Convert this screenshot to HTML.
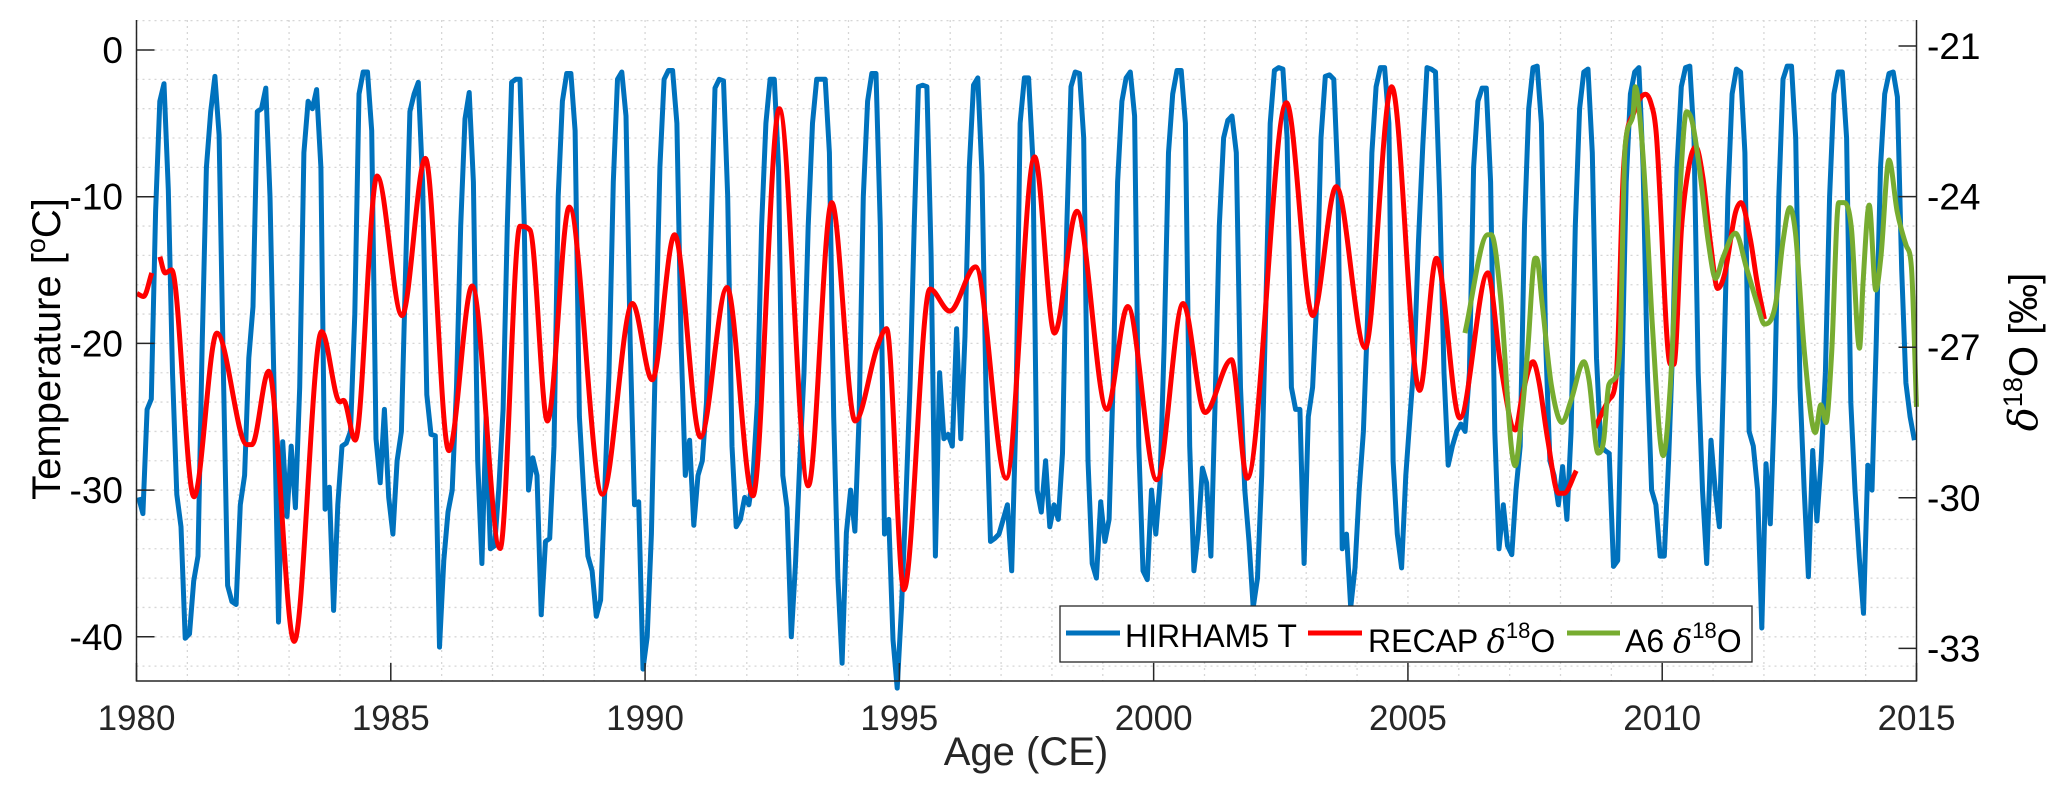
<!DOCTYPE html>
<html><head><meta charset="utf-8"><title>HIRHAM5 T vs δ18O</title>
<style>
html,body{margin:0;padding:0;background:#fff;}
svg{display:block;font-family:"Liberation Sans",Arial,sans-serif;}
</style></head>
<body>
<svg id="chart" width="2067" height="796" viewBox="0 0 2067 796" xmlns="http://www.w3.org/2000/svg">
<rect x="0" y="0" width="2067" height="796" fill="#fff"/>
<g id="grid"></g>
<g id="series"></g>
<g id="axes"></g>
<text x="1026" y="765" font-size="40" fill="#262626" text-anchor="middle">Age (CE)</text>
<text transform="translate(60,349) rotate(-90)" font-size="40" fill="#000" text-anchor="middle">Temperature [<tspan font-size="27" dy="-15">o</tspan><tspan dy="15">C]</tspan></text>
<text transform="translate(2037,352) rotate(-90)" font-size="40" fill="#000" text-anchor="middle"><tspan font-family="DejaVu Serif, serif" font-style="italic">δ</tspan><tspan font-size="27" dy="-15">18</tspan><tspan dy="15">O [‰]</tspan></text>
<g>
<rect x="1060" y="606" width="692" height="56" fill="#fff" stroke="#262626" stroke-width="1.3"/>
<line x1="1066" y1="633" x2="1120" y2="633" stroke="#0072BD" stroke-width="5"/>
<text x="1125" y="647" font-size="32" fill="#000">HIRHAM5 T</text>
<line x1="1308" y1="633" x2="1362" y2="633" stroke="#FF0000" stroke-width="5"/>
<text x="1368" y="652" font-size="32" fill="#000">RECAP <tspan font-family="DejaVu Serif, serif" font-style="italic">δ</tspan><tspan font-size="22" dy="-14">18</tspan><tspan dy="14">O</tspan></text>
<line x1="1567" y1="633" x2="1620" y2="633" stroke="#77AC30" stroke-width="5"/>
<text x="1625" y="652" font-size="32" fill="#000">A6 <tspan font-family="DejaVu Serif, serif" font-style="italic">δ</tspan><tspan font-size="22" dy="-14">18</tspan><tspan dy="14">O</tspan></text>
</g>
</svg>
<script>
// ---- data ----
const years = [1980,1981,1982,1983,1984,1985,1986,1987,1988,1989,1990,1991,1992,1993,1994,1995,1996,1997,1998,1999,2000,2001,2002,2003,2004,2005,2006,2007,2008,2009,2010,2011,2012,2013,2014];
const hirhamMonthly = [
[-30.5,-31.6,-24.5,-23.8,-11,-3.5,-2.3,-9.5,-22,-30.3,-32.5,-40.1],
[-39.8,-36.2,-34.5,-20,-8,-4.2,-1.8,-5.8,-22,-36.5,-37.6,-37.8],
[-31,-29,-21,-17.5,-4.2,-4,-2.6,-10,-23.5,-39,-26.7,-31.8],
[-27,-31.2,-23,-7,-3.5,-4,-2.7,-8,-31.3,-29.8,-38.2,-31],
[-27,-26.8,-26,-18,-3,-1.5,-1.5,-5.5,-26.5,-29.5,-24.5,-30.5],
[-33,-28,-26,-15,-4.2,-3,-2.2,-9,-23.5,-26.2,-26.3,-40.7],
[-34.8,-31.5,-30,-23,-12,-4.7,-2.9,-9,-28,-35,-25,-34],
[-33.8,-29.8,-24.5,-12,-2.2,-2,-2,-12,-30,-27.8,-29,-38.5],
[-33.5,-33.3,-27,-10,-3.5,-1.6,-1.6,-5.5,-25,-30,-34.5,-35.5],
[-38.6,-37.5,-30,-22,-9,-2,-1.5,-4.5,-20,-31,-30.8,-42.2],
[-40,-33,-20,-8,-2,-1.4,-1.4,-5,-20,-29,-26.6,-32.4],
[-29,-28,-24,-13,-2.6,-2,-2.1,-10,-27,-32.5,-32,-30.5],
[-31,-29,-24,-12,-5,-2,-2,-8,-29,-31.2,-40,-35],
[-28,-22,-12,-5,-2,-2,-2,-7,-25,-36,-41.8,-32.9],
[-30,-32.8,-25,-10,-3.5,-1.6,-1.6,-12,-33,-32,-40.2,-43.5],
[-38,-31,-23,-12,-2.5,-2.4,-2.5,-14,-34.5,-22,-26.5,-26.2],
[-27,-19,-26.5,-19.5,-8,-2.4,-1.9,-8.5,-24,-33.5,-33.3,-33],
[-32,-31,-35.5,-25,-5,-1.9,-1.9,-7.5,-30,-31.5,-28,-32.5],
[-31,-32,-27.5,-12,-2.5,-1.5,-1.6,-6,-28,-35,-36,-30.8],
[-33.5,-32,-22,-9,-3.5,-1.9,-1.5,-4.5,-27,-35.5,-36.1,-30],
[-33,-29.5,-20,-7,-3,-1.4,-1.4,-5,-27,-35.5,-33,-28.5],
[-29.5,-34.5,-24,-12,-6,-4.8,-4.5,-7,-23,-30,-33.5,-38],
[-36,-29,-17,-5,-1.4,-1.2,-1.3,-6,-23,-24.5,-24.5,-35],
[-25,-23,-17,-6,-1.8,-1.7,-2,-9,-34,-33,-38,-35.3],
[-30,-26,-18,-7,-2.5,-1.2,-1.2,-5,-28,-33,-35.3,-29],
[-25,-21,-13,-6.5,-1.2,-1.3,-1.5,-10,-22,-28.3,-27,-26],
[-25.5,-26,-22,-8,-3.5,-2.6,-2.6,-9,-26,-34,-31,-33.8],
[-34.4,-30,-27,-12,-4,-1.2,-1.1,-5,-20,-28,-29,-31],
[-28.4,-32,-26,-12,-4,-1.5,-1.3,-7,-21,-27,-27.3,-27.5],
[-35.2,-34.8,-22,-9,-3,-1.5,-1.2,-8,-22,-30,-31,-34.5],
[-34.5,-28,-20,-8,-2.5,-1.2,-1.1,-6,-22,-30,-35,-26.6],
[-30,-32.5,-22,-10,-3,-1.3,-1.5,-7,-26,-27,-30,-39.4],
[-28.2,-32.3,-24,-10,-2,-1.1,-1.1,-6,-23,-30,-35.9,-27.3],
[-32.1,-28,-22,-10,-3,-1.5,-1.5,-6,-24,-30,-34.6,-38.4],
[-28.3,-30,-20,-8,-3,-1.6,-1.5,-3.2,-15,-22.7,-25,-26.6]
];
// RECAP d18O (permil); null = gap
const recapTime = [1980.01,1980.14,1980.30,null,1980.46,1980.56,1980.69,1981.13,1981.58,1982.17,1982.27,1982.60,1983.10,1983.64,1984.00,1984.07,1984.30,1984.73,1985.22,1985.68,1986.14,1986.60,1987.15,1987.54,1987.74,1988.08,1988.51,1989.16,1989.75,1990.14,1990.58,1991.09,1991.61,1992.12,1992.64,1993.21,1993.67,1994.13,1994.57,1994.75,1995.09,1995.60,1995.99,1996.50,1997.10,1997.66,1998.05,1998.49,1999.08,1999.49,2000.06,2000.58,2001.01,2001.53,2001.84,2002.61,2003.13,2003.59,2004.16,2004.68,2005.23,2005.56,2006.02,2006.57,2006.82,2007.11,2007.25,2007.46,2007.57,2007.75,2007.96,2008.07,2008.31,null,2008.68,2008.95,2009.10,2009.24,2009.45,2009.67,2009.77,2009.88,2010.16,2010.23,2010.38,2010.52,2010.66,2010.80,2010.95,2011.09,2011.23,2011.44,2011.55,2011.73,2011.87,2012.01];
const recapD18O = [-25.93,-25.99,-25.52,null,-25.20,-25.52,-25.46,-29.98,-26.72,-28.94,-28.94,-27.48,-32.86,-26.69,-28.09,-28.06,-28.85,-23.59,-26.37,-23.24,-29.06,-25.78,-31.01,-24.59,-24.67,-28.47,-24.21,-29.93,-26.13,-27.65,-24.76,-28.79,-25.81,-29.96,-22.25,-29.76,-24.12,-28.47,-26.98,-26.63,-31.83,-25.84,-26.28,-25.40,-29.61,-23.21,-26.72,-24.29,-28.24,-26.19,-29.64,-26.13,-28.30,-27.25,-29.61,-22.13,-26.37,-23.80,-27.01,-21.81,-27.86,-25.23,-28.41,-25.52,-27.34,-28.65,-27.95,-27.29,-27.65,-28.85,-29.91,-29.91,-29.46,null,-28.60,-28.05,-27.55,-23.42,-22.31,-21.96,-22.11,-22.71,-27.34,-27.34,-24.63,-23.42,-23.01,-23.62,-24.93,-25.83,-25.53,-24.32,-24.12,-24.83,-25.73,-26.44];
// A6 d18O (permil)
const a6Time = [2006.12,2006.57,2006.64,2006.82,2007.03,2007.11,2007.21,2007.35,2007.50,2007.53,2007.64,2007.82,2008.03,2008.21,2008.46,2008.56,2008.74,2008.85,2008.95,2009.06,2009.17,2009.27,2009.42,2009.47,2009.56,2009.67,2009.81,2010.02,2010.16,2010.31,2010.48,2010.59,2010.73,2010.91,2011.05,2011.19,2011.44,2011.66,2011.87,2012.01,2012.23,2012.37,2012.51,2012.62,2012.80,2013.01,2013.12,2013.22,2013.33,2013.47,2013.58,2013.72,2013.88,2013.95,2014.07,2014.2,2014.3,2014.46,2014.62,2014.8,2014.9,2015.0];
const a6D18O = [-26.72,-24.76,-24.76,-25.98,-28.96,-29.36,-28.65,-27.14,-25.23,-25.23,-26.14,-27.75,-28.50,-28.05,-27.29,-27.65,-29.11,-28.85,-27.75,-27.63,-26.94,-23.01,-22.41,-21.81,-22.41,-23.92,-26.64,-29.16,-27.75,-24.63,-22.31,-22.51,-23.42,-24.93,-25.63,-25.23,-24.73,-25.43,-26.14,-26.54,-26.14,-24.93,-24.22,-24.73,-27.14,-28.70,-28.15,-28.50,-27.14,-24.12,-24.12,-24.63,-27.02,-25.7,-24.17,-25.86,-25.2,-23.27,-24.3,-24.98,-25.4,-28.19];
const xTicks = [1980,1985,1990,1995,2000,2005,2010,2015];
const yTicksLeft = [0,-10,-20,-30,-40];
const yTicksRight = [-21,-24,-27,-30,-33];

// ---- scales ----
const PL=136.5, PR=1916.5, PT=20, PB=681;
const X = t => PL + (t-1980)*(PR-PL)/35;
const YL = v => 50 - v*14.67;
const YR = v => 46 + (-21 - v)*50.2;
const NS='http://www.w3.org/2000/svg';
function mk(tag, attrs, parent){const e=document.createElementNS(NS,tag);for(const k in attrs)e.setAttribute(k,attrs[k]);parent.appendChild(e);return e;}
const grid=document.getElementById('grid'), axes=document.getElementById('axes'), series=document.getElementById('series');

// grid
for(let y=1980;y<=2015;y++){
  const g=mk('line',{x1:X(y),x2:X(y),y1:PT,y2:PB,stroke:'#d6d6d6','stroke-width':1.3,'stroke-dasharray':'2 4'},grid);
  
  
}
for(let v=2;v>=-42;v-=2){
  const g=mk('line',{x1:PL,x2:PR,y1:YL(v),y2:YL(v),stroke:'#d6d6d6','stroke-width':1.3,'stroke-dasharray':'2 4'},grid);
  
  
}

// blue series
let pts=[];
years.forEach((yr,i)=>hirhamMonthly[i].forEach((v,m)=>pts.push([X(yr+(m+0.5)/12),YL(v)])));
const blue=mk('polyline',{points:pts.map(p=>p[0].toFixed(1)+','+p[1].toFixed(1)).join(' '),fill:'none',stroke:'#0072BD','stroke-width':5,'stroke-linejoin':'round'},series);



// monotone cubic path
function monoPath(xs,ys){
  const n=xs.length; if(n<2)return '';
  const d=[],m=new Array(n);
  for(let i=0;i<n-1;i++)d.push((ys[i+1]-ys[i])/(xs[i+1]-xs[i]));
  m[0]=d[0];m[n-1]=d[n-2];
  for(let i=1;i<n-1;i++){m[i]=(d[i-1]*d[i]<=0)?0:(d[i-1]+d[i])/2;}
  for(let i=0;i<n-1;i++){
    if(d[i]===0){m[i]=0;m[i+1]=0;continue;}
    const a=m[i]/d[i],b=m[i+1]/d[i],s=a*a+b*b;
    if(s>9){const t=3/Math.sqrt(s);m[i]=t*a*d[i];m[i+1]=t*b*d[i];}
  }
  let p='M'+xs[0].toFixed(1)+','+ys[0].toFixed(1);
  for(let i=0;i<n-1;i++){
    const h=(xs[i+1]-xs[i])/3;
    p+=' C'+(xs[i]+h).toFixed(1)+','+(ys[i]+m[i]*h).toFixed(1)+' '+(xs[i+1]-h).toFixed(1)+','+(ys[i+1]-m[i+1]*h).toFixed(1)+' '+xs[i+1].toFixed(1)+','+ys[i+1].toFixed(1);
  }
  return p;
}
function drawSmooth(ts,vs,color,name){
  let xs=[],ys=[],path='';
  const flush=()=>{if(xs.length>1)path+=monoPath(xs,ys)+' ';xs=[];ys=[];};
  ts.forEach((t,i)=>{if(t===null||vs[i]===null){flush();}else{xs.push(X(t));ys.push(YR(vs[i]));}});
  flush();
  const el=mk('path',{d:path,fill:'none',stroke:color,'stroke-width':5,'stroke-linejoin':'round'},series);
  
  
}
drawSmooth(recapTime,recapD18O,'#FF0000','recap-d18o-line');
drawSmooth(a6Time,a6D18O,'#77AC30','a6-d18o-line');

// axes
const ax=mk('path',{d:`M${PL},${PT} V${PB} H${PR} V${PT}`,fill:'none',stroke:'#262626','stroke-width':1.5},axes);


xTicks.forEach(t=>{
  const l=mk('line',{x1:X(t),x2:X(t),y1:PB,y2:PB-18,stroke:'#262626','stroke-width':1.5},axes);
  
  
  const tx=mk('text',{x:X(t),y:730,'font-size':35,fill:'#262626','text-anchor':'middle'},axes);
  tx.textContent=t;
  
  
});
yTicksLeft.forEach(v=>{
  const l=mk('line',{x1:PL,x2:PL+18,y1:YL(v),y2:YL(v),stroke:'#262626','stroke-width':1.5},axes);
  
  
  const tx=mk('text',{x:123,y:YL(v)+13,'font-size':37,fill:'#000','text-anchor':'end'},axes);
  tx.textContent=v;
  
  
});
yTicksRight.forEach(v=>{
  const l=mk('line',{x1:PR,x2:PR-18,y1:YR(v),y2:YR(v),stroke:'#262626','stroke-width':1.5},axes);
  
  
  const tx=mk('text',{x:1927,y:YR(v)+13,'font-size':37,fill:'#000','text-anchor':'start'},axes);
  tx.textContent=v;
  
  
});
</script>
</body></html>
